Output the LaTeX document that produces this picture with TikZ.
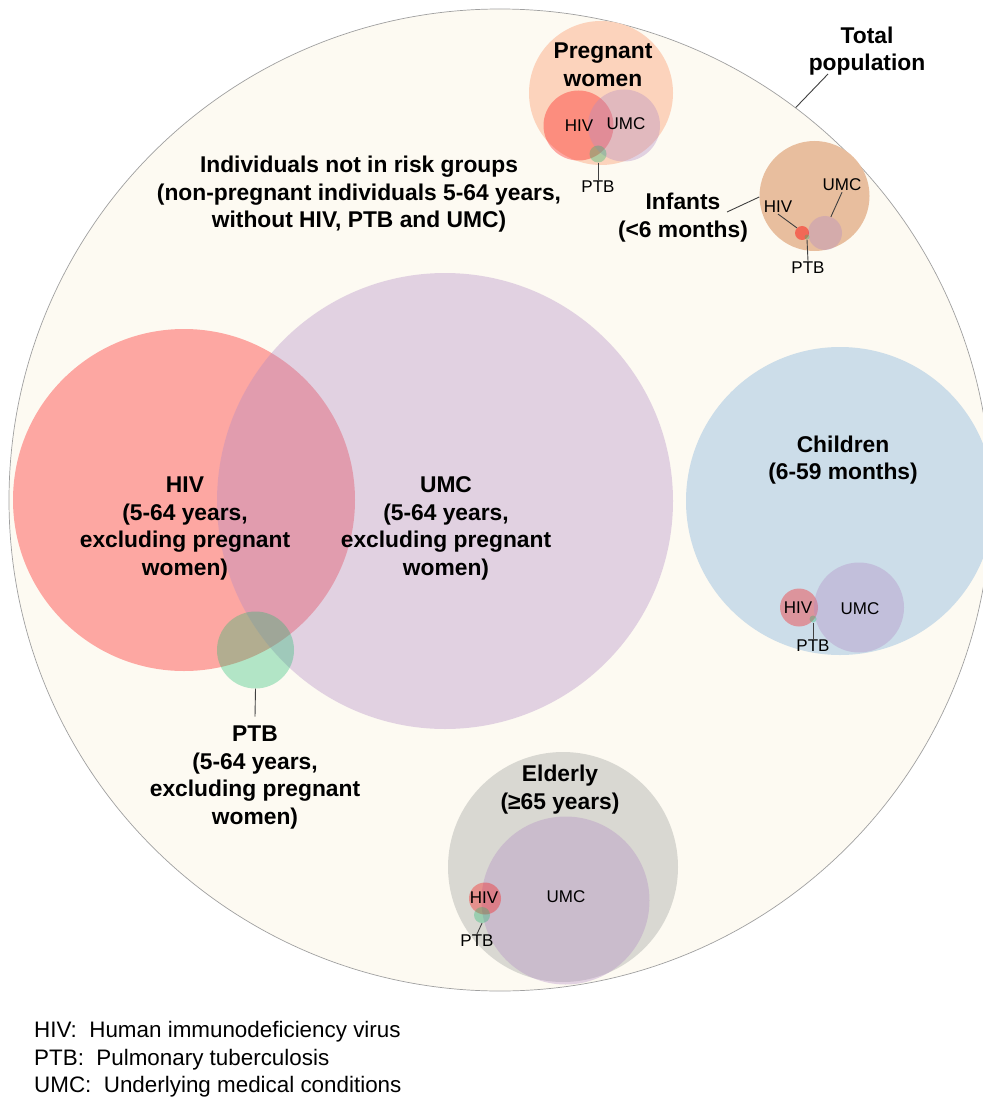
\documentclass[tikz,border=0pt]{standalone}
\usepackage{fontspec}
\setmainfont{Liberation Sans}
\usepackage{tikz}
\usetikzlibrary{positioning}
\definecolor{popcream}{HTML}{FDFAF2}
\definecolor{popedge}{HTML}{A0A0A0}
\definecolor{hivred}{HTML}{FF0000}
\definecolor{umcpurple}{HTML}{B28BC4}
\definecolor{ptbgreen}{HTML}{1BBB6D}
\definecolor{pregpeach}{HTML}{FCD3BC}
\definecolor{infanttan}{HTML}{E8BE9E}
\definecolor{childblue}{HTML}{CCDDE9}
\definecolor{eldergrey}{HTML}{D9D8D2}
\definecolor{leadgrey}{HTML}{404040}

\begin{document}
\begin{tikzpicture}[x=1pt, y=-1pt,
    blob/.style={circle, inner sep=0pt, minimum size=#1pt},
    hivc/.style={blob=#1, fill=hivred, fill opacity=0.33},
    umcc/.style={blob=#1, fill=umcpurple, fill opacity=0.36},
    ptbc/.style={blob=#1, fill=ptbgreen, fill opacity=0.33},
    group/.style={font=\fontsize{22.8}{27.5}\selectfont\bfseries, align=center},
    tag/.style={font=\fontsize{17}{20}\selectfont, inner sep=1pt},
    lead/.style={draw=leadgrey, line width=0.9pt},
]
\fill[white] (0,0) rectangle (982,1099);
\useasboundingbox (0,0) rectangle (982,1099);

% Total population
\node[blob=982, fill=popcream, draw=popedge, line width=0.7pt] (tot) at (500,500) {};

% HIV, UMC, PTB (5-64 years)
\node[hivc=342] (hiv) at (184,500) {};
\node[umcc=456] (umc) at (445,501) {};
\node[ptbc=77] (ptb) at (255.5,650) {};

% Pregnant women
\node[blob=144, fill=pregpeach] (preg) at (601,93) {};
\node[hivc=70] (phiv) at (578.5,125.5) {};
\node[umcc=72] (pumc) at (624,125.5) {};
\node[ptbc=17] (pptb) at (598,154) {};

% Infants
\node[blob=110, fill=infanttan] (inf) at (814.5,196) {};
\node[umcc=34] (iumc) at (825,233) {};
\node[hivc=14, fill opacity=0.45] (ihiv) at (802,233) {};
\node[ptbc=5] (iptb) at (807,237) {};

% Children
\node[blob=308, fill=childblue] (chd) at (840,501) {};
\node[hivc=38] (chiv) at (799,607.5) {};
\node[umcc=90] (cumc) at (859,607.5) {};
\node[ptbc=7] (cptb) at (813,619) {};

% Elderly
\node[blob=230, fill=eldergrey] (eld) at (563,867) {};
\node[umcc=168] (eumc) at (565.5,900.5) {};
\node[hivc=32] (ehiv) at (485,898.5) {};
\node[ptbc=16] (eptb) at (482,915) {};

% Group labels
\node[group] (totlbl) at (867,51) {Total\\population};
\node[group] (nrlbl) at (359,194.5) {Individuals not in risk groups\\(non-pregnant individuals 5-64 years,\\without HIV, PTB and UMC)};
\node[group] (hivlbl) at (185,528.5) {HIV\\(5-64 years,\\excluding pregnant\\women)};
\node[group] (umclbl) at (446,528.5) {UMC\\(5-64 years,\\excluding pregnant\\women)};
\node[group] (ptblbl) at (255,777.5) {PTB\\(5-64 years,\\excluding pregnant\\women)};
\node[group] (preglbl) at (603,65) {Pregnant\\women};
\node[group] (inflbl) at (683,217.5) {Infants\\(<6 months)};
\node[group] (chdlbl) at (843,460) {Children\\(6-59 months)};
\node[group] (eldlbl) at (560,789.5) {Elderly\\(≥65 years)};

% Small tags
\node[tag] (phivlbl) at (579,126) {HIV};
\node[tag] (pumclbl) at (626,124) {UMC};
\node[tag] (pptblbl) at (598,187) {PTB};
\node[tag] (ihivlbl) at (778,207) {HIV};
\node[tag] (iumclbl) at (842,185) {UMC};
\node[tag] (iptblbl) at (808,268) {PTB};
\node[tag] (chivlbl) at (798,608) {HIV};
\node[tag] (cumclbl) at (860,609) {UMC};
\node[tag] (cptblbl) at (813,646) {PTB};
\node[tag] (ehivlbl) at (484,898) {HIV};
\node[tag] (eumclbl) at (566,897) {UMC};
\node[tag] (eptblbl) at (477,941) {PTB};

% Leader lines
\coordinate (totfoot) at (828,74);
\coordinate (inffoot) at (727,212);
\draw[lead] (totfoot) -- (tot.53);
\draw[lead] (inffoot) -- (inf.181);
\draw[lead] (ptb.south) -- ([yshift=6pt]ptblbl.north);
\draw[lead] (pptb.south) -- (pptblbl.north);
\draw[lead] (ihivlbl.south) -- (ihiv.north west);
\draw[lead] (iumclbl.south) -- (iumc.70);
\draw[lead] (iptb.south) -- (iptblbl.north);
\draw[lead] (cptb.south) -- (cptblbl.north);
\draw[lead] (eptb.south) -- (eptblbl.north);

% Legend
\node[anchor=west, inner sep=0pt, align=left, font=\fontsize{22.4}{27.5}\selectfont] (legend) at (34,1059.5)
    {HIV:\ \ Human immunodeficiency virus\\PTB:\ \ Pulmonary tuberculosis\\UMC:\ \ Underlying medical conditions};

\end{tikzpicture}
\end{document}
